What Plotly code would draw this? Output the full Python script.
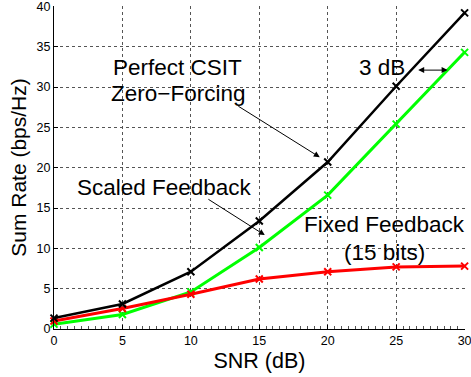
import plotly.graph_objects as go

snr = [0, 5, 10, 15, 20, 25, 30]
perfect_zf = [1.35, 3.1, 7.1, 13.4, 20.7, 30.1, 39.2]
scaled_fb = [0.6, 1.8, 4.6, 10.1, 16.6, 25.4, 34.3]
fixed_fb = [1.0, 2.55, 4.3, 6.2, 7.1, 7.7, 7.8]

x_ticks = [0, 5, 10, 15, 20, 25, 30]
y_ticks = [0, 5, 10, 15, 20, 25, 30, 35, 40]

FONT = "Liberation Sans, Arial, Helvetica, sans-serif"

fig = go.Figure()

def add_series(y, color, width):
    fig.add_trace(go.Scatter(
        x=snr, y=y, mode="lines+markers",
        line=dict(color=color, width=width),
        marker=dict(symbol="x-thin", size=7, color=color,
                    line=dict(color=color, width=2)),
        showlegend=False, cliponaxis=False))

add_series(scaled_fb, "#00ff00", 3)
add_series(fixed_fb, "#ff0000", 3)
add_series(perfect_zf, "#000000", 2.5)

def text_ann(x, y, t):
    fig.add_annotation(x=x, y=y, xref="x", yref="y", text=t, showarrow=False,
                       font=dict(family=FONT, size=22.5, color="black"),
                       xanchor="center", yanchor="middle")

text_ann(9.05, 32.45, "Perfect CSIT")
text_ann(9.05, 29.2, "Zero\u2212Forcing")
text_ann(8.1, 17.6, "Scaled Feedback")
text_ann(24.16, 12.9, "Fixed Feedback")
text_ann(24.16, 9.5, "(15 bits)")
text_ann(23.94, 32.45, "3 dB")

def arrow(x, y, ax, ay, side="end"):
    fig.add_annotation(x=x, y=y, ax=ax, ay=ay, xref="x", yref="y",
                       axref="x", ayref="y", text="", showarrow=True,
                       arrowhead=2, arrowsize=1.2, arrowwidth=1,
                       arrowcolor="black", arrowside=side,
                       startarrowhead=2, startarrowsize=1.2)

arrow(19.42, 21.3, 13.36, 27.74)
arrow(15.4, 11.64, 11.17, 16.2)
arrow(28.76, 32.1, 26.5, 32.1, side="end+start")

axis_common = dict(
    showgrid=True, gridcolor="#555555", griddash="dot", gridwidth=1,
    showline=True, linecolor="black", linewidth=1,
    ticks="inside", ticklen=4, tickcolor="black",
    tickfont=dict(family=FONT, size=12.5, color="black"),
    zeroline=False, mirror=False, ticklabeloverflow="allow",
    automargin=False,
)

fig.update_xaxes(range=[0, 30.03], tickvals=x_ticks,
                 title=dict(text="SNR (dB)", font=dict(family=FONT, size=21.5, color="black"), standoff=5),
                 minor=dict(dtick=0.5, ticks="inside", ticklen=3, tickcolor="#555555", showgrid=False),
                 **axis_common)
fig.update_yaxes(range=[0, 40.05], tickvals=y_ticks,
                 title=dict(text="Sum Rate (bps/Hz)", font=dict(family=FONT, size=21, color="black"), standoff=4),
                 **axis_common)

fig.update_layout(
    width=471, height=377,
    margin=dict(l=54, r=6, t=6, b=48),
    plot_bgcolor="white", paper_bgcolor="white",
    font=dict(family=FONT, color="black"),
)

fig.write_html("out.html")
